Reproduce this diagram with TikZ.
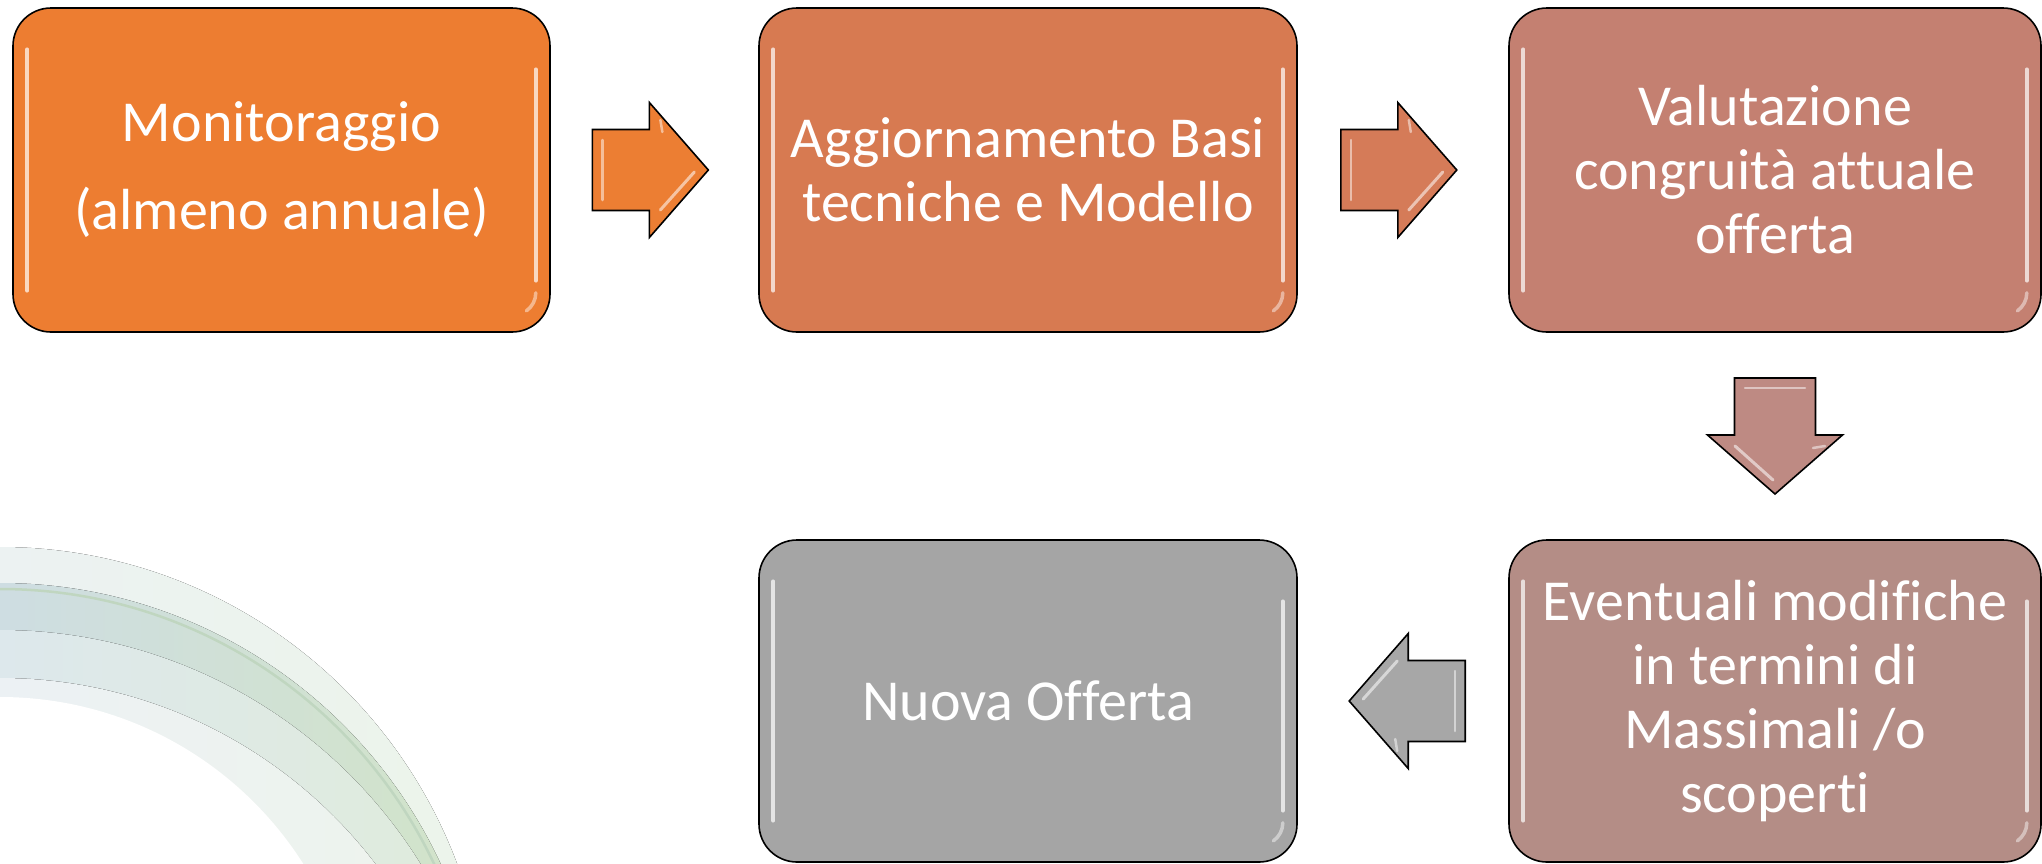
\documentclass[tikz,border=0pt]{standalone}
\usepackage{fontspec}
\setmainfont{Carlito}[Ligatures={NoCommon,NoContextual}]
\usetikzlibrary{calc}
\definecolor{boxA}{HTML}{ED7D31}
\definecolor{boxB}{HTML}{D77A51}
\definecolor{boxC}{HTML}{C48071}
\definecolor{boxD}{HTML}{B48D86}
\definecolor{boxE}{HTML}{A5A5A5}
\definecolor{arrA}{HTML}{EC7E33}
\definecolor{arrB}{HTML}{D57B58}
\definecolor{arrC}{HTML}{BE8A83}
\definecolor{arrD}{HTML}{A7A7A7}
\definecolor{swA1}{RGB}{236,242,242}
\definecolor{swA2}{RGB}{236,244,234}
\definecolor{swB1}{RGB}{206,221,226}
\definecolor{swB2}{RGB}{210,228,200}
\definecolor{swLine}{RGB}{192,214,192}
\definecolor{swC1}{RGB}{221,232,236}
\definecolor{swC2}{RGB}{224,236,219}
\definecolor{swD1}{RGB}{236,241,244}
\definecolor{swD2}{RGB}{238,244,236}
\newcommand\glossbox[1]{%
  \draw[glossline] ($(#1.north west)+(15,42)$) -- ($(#1.south west)+(15,-42)$);
  \draw[glossline] ($(#1.north east)+(-15,62)$) -- ($(#1.south east)+(-15,-52)$);
  \draw[glossline,opacity=0.45] ($(#1.south east)+(-15,-40)$) arc[start angle=0,end angle=55,radius=22];
}
\begin{document}
\begin{tikzpicture}[x=1pt,y=-1pt,
  stepbox/.style={draw=black, line width=1.6pt, rounded corners=38pt, text=white,
    align=center, inner sep=0pt, minimum width=532pt, minimum height=322pt,
    font=\fontsize{58}{64}\selectfont},
  glossline/.style={white, opacity=0.7, line width=3.5pt, line cap=round},
  arrowstyle/.style={draw=black, line width=1.6pt, line join=miter},
  blockarrow/.pic={
    \draw[pic actions] (-58,-40.5) -- (-1,-40.5) -- (-1,-67.5) -- (58,0) -- (-1,67.5) -- (-1,40.5) -- (-58,40.5) -- cycle;
    \draw[white, opacity=0.5, line width=2.5pt, line cap=round] (-48,-30) -- (-48,30);
    \draw[white, opacity=0.5, line width=2.5pt, line cap=round] (10,-50) -- (12,-38);
    \draw[white, opacity=0.55, line width=3pt, line cap=round] (44,2) -- (10,40);
  }]
\useasboundingbox (0,0) rectangle (2042,863);
\begin{scope}
\clip (0,0) rectangle (2042,863);
% decorative background swoosh (overlapping quarter discs)
\fill[left color=swA1, right color=swA2]
  (0,1035) -- (0,547) arc[start angle=-90,end angle=0,radius=488] -- cycle;
\fill[left color=swB1, right color=swB2]
  (0,1069) -- (0,583) arc[start angle=-90,end angle=0,radius=486] -- cycle;
\draw[swLine, line width=2.5pt]
  (0,589) arc[start angle=-90,end angle=0,radius=480];
\fill[left color=swC1, right color=swC2]
  (0,1125) -- (0,630) arc[start angle=-90,end angle=0,radius=495] -- cycle;
\fill[left color=swD1, right color=swD2]
  (0,1150) -- (0,678) arc[start angle=-90,end angle=0,radius=472] -- cycle;
\fill[white]
  (0,1056) -- (0,697) arc[start angle=-90,end angle=0,radius=359] -- cycle;
\end{scope}
% step boxes
\node[stepbox, fill=boxA, minimum width=537pt, minimum height=324pt] (m1) at (281.5,170)
  {Monitoraggio\\[24pt](almeno annuale)};
\node[stepbox, fill=boxB, minimum width=538pt, minimum height=324pt] (m2) at (1028,170)
  {Aggiornamento Basi\\tecniche e Modello};
\node[stepbox, fill=boxC, minimum height=324pt] (m3) at (1775,170)
  {Valutazione\\congruità attuale\\offerta};
\node[stepbox, fill=boxD] (m4) at (1775,701)
  {Eventuali modifiche\\in termini di\\Massimali /o\\scoperti};
\node[stepbox, fill=boxE, minimum width=538pt] (m5) at (1028,701)
  {Nuova Offerta};
\glossbox{m1}
\glossbox{m2}
\glossbox{m3}
\glossbox{m4}
\glossbox{m5}
% block arrows between the steps
\coordinate (a12) at ($(m1.east)!0.48!(m2.west)$);
\coordinate (a23) at ($(m2.east)!0.48!(m3.west)$);
\coordinate (a34) at ($(m3.south)!0.5!(m4.north)$);
\coordinate (a45) at ($(m4.west)!0.48!(m5.east)$);
\pic[arrowstyle, fill=arrA] at (a12) {blockarrow};
\pic[arrowstyle, fill=arrB] at (a23) {blockarrow};
\pic[arrowstyle, fill=arrC, rotate=-90] at (a34) {blockarrow};
\pic[arrowstyle, fill=arrD, rotate=180] at (a45) {blockarrow};
\end{tikzpicture}
\end{document}
